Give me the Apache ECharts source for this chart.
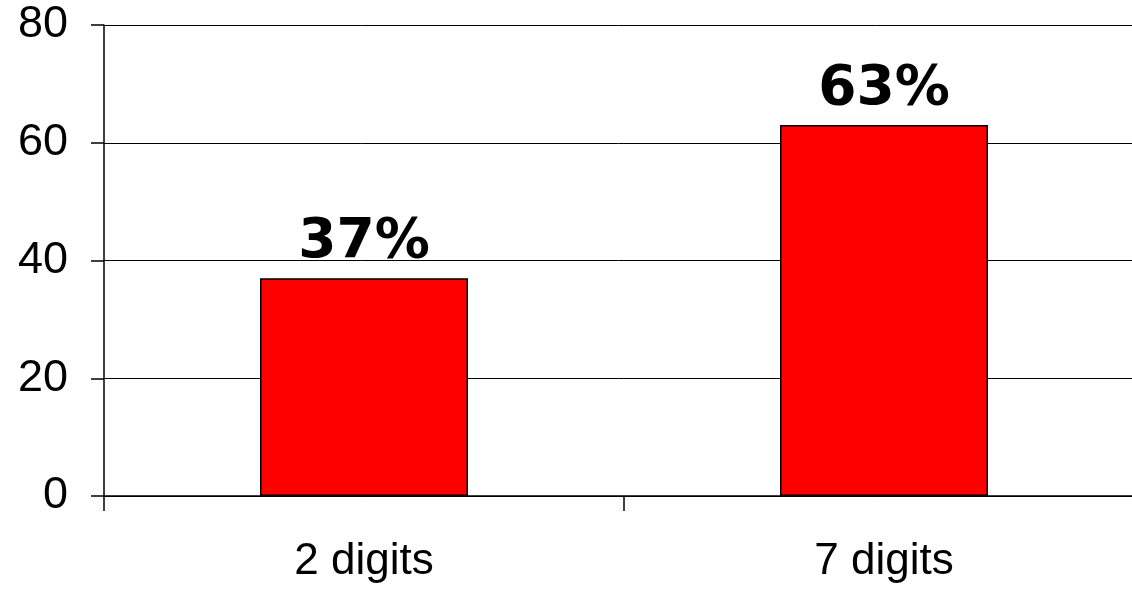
<!DOCTYPE html>
<html><head><meta charset="utf-8">
<style>html,body{margin:0;padding:0;background:#fff}#c{width:1132px;height:590px}</style>
<script src="https://cdn.jsdelivr.net/npm/echarts@6/dist/echarts.min.js"></script>
</head><body><div id="c"></div>
<script>
var categories = ['2 digits', '7 digits'];
var values = [37, 63];
var yTicks = [0, 20, 40, 60, 80];

var chart = echarts.init(document.getElementById('c'));
chart.setOption({
  animation: false,
  grid: {left: 104, top: 25, bottom: 94, width: 1040, outerBoundsMode: 'none'},
  xAxis: {
    type: 'category', data: categories,
    axisLine: {lineStyle: {color: '#000', width: 1.5}},
    axisTick: {show: true, length: 15, lineStyle: {color: '#000', width: 1.5}},
    axisLabel: {color: '#000', fontFamily: 'Liberation Sans', fontSize: 44, margin: 44}
  },
  yAxis: {
    type: 'value', min: yTicks[0], max: yTicks[yTicks.length - 1], interval: 20,
    axisLine: {show: true, lineStyle: {color: '#000', width: 1.5}},
    axisTick: {show: true, length: 13, lineStyle: {color: '#000', width: 1.5}},
    axisLabel: {color: '#000', fontFamily: 'Liberation Sans', fontSize: 45, margin: 36},
    splitLine: {show: true, lineStyle: {color: '#000', width: 1}}
  },
  series: [{
    type: 'bar', data: values, barWidth: '40%',
    itemStyle: {color: '#ff0000', borderColor: '#000', borderWidth: 1.5},
    label: {show: true, position: 'top', distance: 8, formatter: '{c}%',
      color: '#000', fontFamily: 'DejaVu Sans', fontWeight: 'bold', fontSize: 55}
  }]
});
</script></body></html>
